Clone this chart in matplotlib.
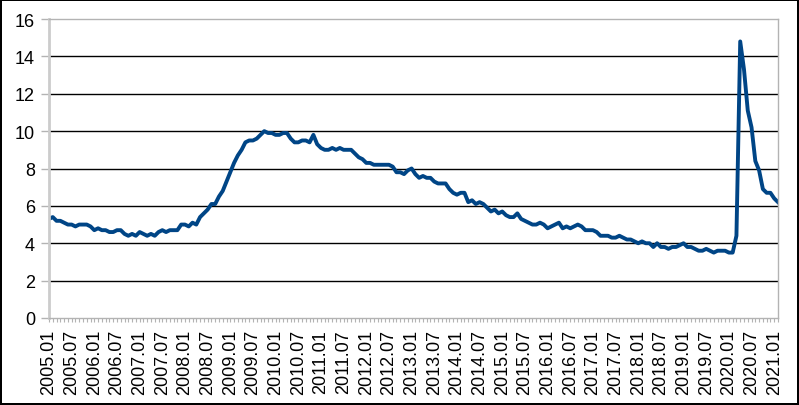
import matplotlib.pyplot as plt
import numpy as np

plt.rcParams['font.family'] = ['Liberation Sans', 'DejaVu Sans']

# monthly values, 2005.01 - 2021.02
rate_2005 = [5.3, 5.4, 5.2, 5.2, 5.1, 5.0, 5.0, 4.9, 5.0, 5.0, 5.0, 4.9]
rate_2006 = [4.7, 4.8, 4.7, 4.7, 4.6, 4.6, 4.7, 4.7, 4.5, 4.4, 4.5, 4.4]
rate_2007 = [4.6, 4.5, 4.4, 4.5, 4.4, 4.6, 4.7, 4.6, 4.7, 4.7, 4.7, 5.0]
rate_2008 = [5.0, 4.9, 5.1, 5.0, 5.4, 5.6, 5.8, 6.1, 6.1, 6.5, 6.8, 7.3]
rate_2009 = [7.8, 8.3, 8.7, 9.0, 9.4, 9.5, 9.5, 9.6, 9.8, 10.0, 9.9, 9.9]
rate_2010 = [9.8, 9.8, 9.9, 9.9, 9.6, 9.4, 9.4, 9.5, 9.5, 9.4, 9.8, 9.3]
rate_2011 = [9.1, 9.0, 9.0, 9.1, 9.0, 9.1, 9.0, 9.0, 9.0, 8.8, 8.6, 8.5]
rate_2012 = [8.3, 8.3, 8.2, 8.2, 8.2, 8.2, 8.2, 8.1, 7.8, 7.8, 7.7, 7.9]
rate_2013 = [8.0, 7.7, 7.5, 7.6, 7.5, 7.5, 7.3, 7.2, 7.2, 7.2, 6.9, 6.7]
rate_2014 = [6.6, 6.7, 6.7, 6.2, 6.3, 6.1, 6.2, 6.1, 5.9, 5.7, 5.8, 5.6]
rate_2015 = [5.7, 5.5, 5.4, 5.4, 5.6, 5.3, 5.2, 5.1, 5.0, 5.0, 5.1, 5.0]
rate_2016 = [4.8, 4.9, 5.0, 5.1, 4.8, 4.9, 4.8, 4.9, 5.0, 4.9, 4.7, 4.7]
rate_2017 = [4.7, 4.6, 4.4, 4.4, 4.4, 4.3, 4.3, 4.4, 4.3, 4.2, 4.2, 4.1]
rate_2018 = [4.0, 4.1, 4.0, 4.0, 3.8, 4.0, 3.8, 3.8, 3.7, 3.8, 3.8, 3.9]
rate_2019 = [4.0, 3.8, 3.8, 3.7, 3.6, 3.6, 3.7, 3.6, 3.5, 3.6, 3.6, 3.6]
rate_2020 = [3.5, 3.5, 4.4, 14.8, 13.3, 11.1, 10.2, 8.4, 7.9, 6.9, 6.7, 6.7]
rate_2021 = [6.4, 6.2]

rates = (rate_2005 + rate_2006 + rate_2007 + rate_2008 + rate_2009 + rate_2010
         + rate_2011 + rate_2012 + rate_2013 + rate_2014 + rate_2015 + rate_2016
         + rate_2017 + rate_2018 + rate_2019 + rate_2020 + rate_2021)
months = ['%d.%02d' % (2005 + i // 12, i % 12 + 1) for i in range(len(rates))]

fig = plt.figure(figsize=(7.99, 4.06), dpi=100)
fig.patch.set_edgecolor('black')
fig.patch.set_linewidth(1.5)
ax = fig.add_axes([0.0613, 0.2143, 0.9124, 0.7364])

x = np.arange(len(rates))
ax.plot(x, rates, color='#004586', linewidth=2.8, solid_joinstyle='round')

ax.set_xlim(0, len(rates) - 1)
ax.set_ylim(0, 16)
ax.set_yticks(range(0, 17, 2))
ax.yaxis.grid(True, color='black', linewidth=1)
ax.set_axisbelow(True)
gl = ax.yaxis.get_gridlines()
gl[0].set_visible(False)
gl[-1].set_visible(False)

ax.set_xticks(x[::6])
ax.set_xticklabels(months[::6], rotation=90)
ax.set_xticks(x, minor=True)

for s in ['top', 'right', 'bottom']:
    ax.spines[s].set_color('#b3b3b3')
    ax.spines[s].set_linewidth(1)
ax.spines['left'].set_color('#cccccc')
ax.spines['left'].set_linewidth(2)

ax.tick_params(axis='y', labelsize=13, length=6, width=1, color='#b3b3b3', pad=4)
ax.tick_params(axis='x', which='both', labelsize=13, length=3, width=0.8,
               color='#b3b3b3', pad=5)

fig.savefig('out.png', dpi=100, edgecolor=fig.get_edgecolor())
